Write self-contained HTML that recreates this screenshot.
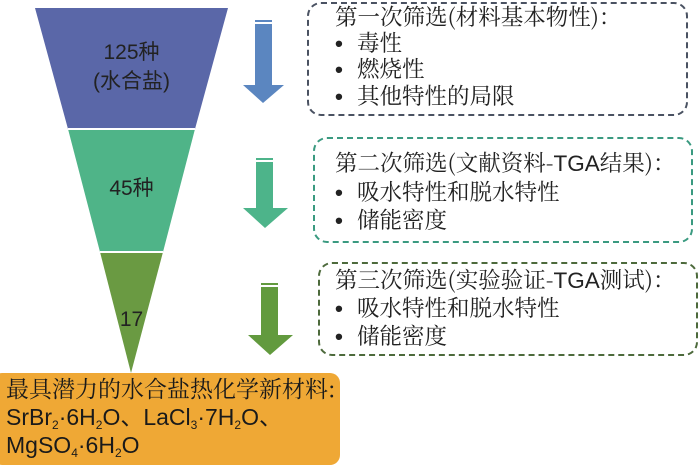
<!DOCTYPE html>
<html><head><meta charset="utf-8"><style>
body{margin:0;width:700px;height:468px;background:#fff;position:relative;overflow:hidden;font-family:"Liberation Sans","Noto Sans CJK SC",sans-serif;}
.t{position:absolute;white-space:nowrap;color:#222;}
.b{position:absolute;border:2px dashed;border-radius:14px;box-sizing:border-box;}
.c{font-family:"Noto Serif CJK SC","Liberation Serif",serif;}
.d{font-family:"Liberation Sans",sans-serif;font-weight:bold;display:inline-block;width:22px;}
sub{font-size:12px;vertical-align:-4px;line-height:0;}
</style></head><body>
<svg width="700" height="468" style="position:absolute;left:0;top:0">
<polygon points="35,8 228,8 195,129 68,129" fill="#5a67a8"/>
<polygon points="68,129 195,129 163,252 100,252" fill="#4fb488"/>
<polygon points="100,252 163,252 131,373" fill="#6a9a42"/>
<line x1="68" y1="129" x2="195" y2="129" stroke="#fff" stroke-width="2"/>
<line x1="100" y1="252" x2="163" y2="252" stroke="#fff" stroke-width="2"/>
<g fill="#5b86c0"><rect x="255" y="20" width="17" height="2"/><rect x="255" y="24" width="17" height="61"/><polygon points="243,85 284,85 263,103"/></g>
<g fill="#4db48a"><rect x="256" y="158" width="17" height="2"/><rect x="256" y="162" width="17" height="46"/><polygon points="243,208 288,208 265,228"/></g>
<g fill="#629a3e"><rect x="261" y="283" width="17" height="2"/><rect x="261" y="287" width="17" height="48"/><polygon points="248,335 293,335 270,355"/></g>
</svg>
<div class="t" style="left:0;width:263px;text-align:center;top:38px;font-size:21px;line-height:29px;color:#222">125种<br>(水合盐)</div>
<div class="t" style="left:0;width:263px;text-align:center;top:172px;font-size:21px">45种</div>
<div class="t" style="left:0;width:263px;text-align:center;top:308px;font-size:21px">17</div>

<div class="b" style="left:307px;top:2px;width:381px;height:114px;border-color:#4a5262"></div>
<div class="b" style="left:313px;top:137px;width:380px;height:106px;border-color:#3a9a80"></div>
<div class="b" style="left:318px;top:262px;width:380px;height:94px;border-color:#4d6a3c"></div>

<div class="t c" style="left:335px;top:4px;font-size:22.5px;line-height:25.5px">第一次筛选(材料基本物性)：<br><span class="d">•</span>毒性<br><span class="d">•</span>燃烧性<br><span class="d">•</span>其他特性的局限</div>
<div class="t c" style="left:335px;top:149px;font-size:22.5px;line-height:27.5px">第二次筛选(文献资料-<span style="font-family:'Liberation Sans'">TGA</span>结果)：<br><span class="d">•</span>吸水特性和脱水特性<br><span class="d">•</span>储能密度</div>
<div class="t c" style="left:335px;top:266px;font-size:22.5px;line-height:27px">第三次筛选(实验验证-<span style="font-family:'Liberation Sans'">TGA</span>测试)：<br><span class="d">•</span>吸水特性和脱水特性<br><span class="d">•</span>储能密度</div>

<div style="position:absolute;left:-8px;top:373px;width:348px;height:92px;background:#efa835;border-radius:10px;"></div>
<div class="t" style="left:6px;top:374px;font-size:23px;line-height:28px;color:#1a1a1a"><span class="c">最具潜力的水合盐热化学新材料:</span><br>SrBr<sub>2</sub>·6H<sub>2</sub>O、LaCl<sub>3</sub>·7H<sub>2</sub>O、<br>MgSO<sub>4</sub>·6H<sub>2</sub>O</div>
</body></html>
